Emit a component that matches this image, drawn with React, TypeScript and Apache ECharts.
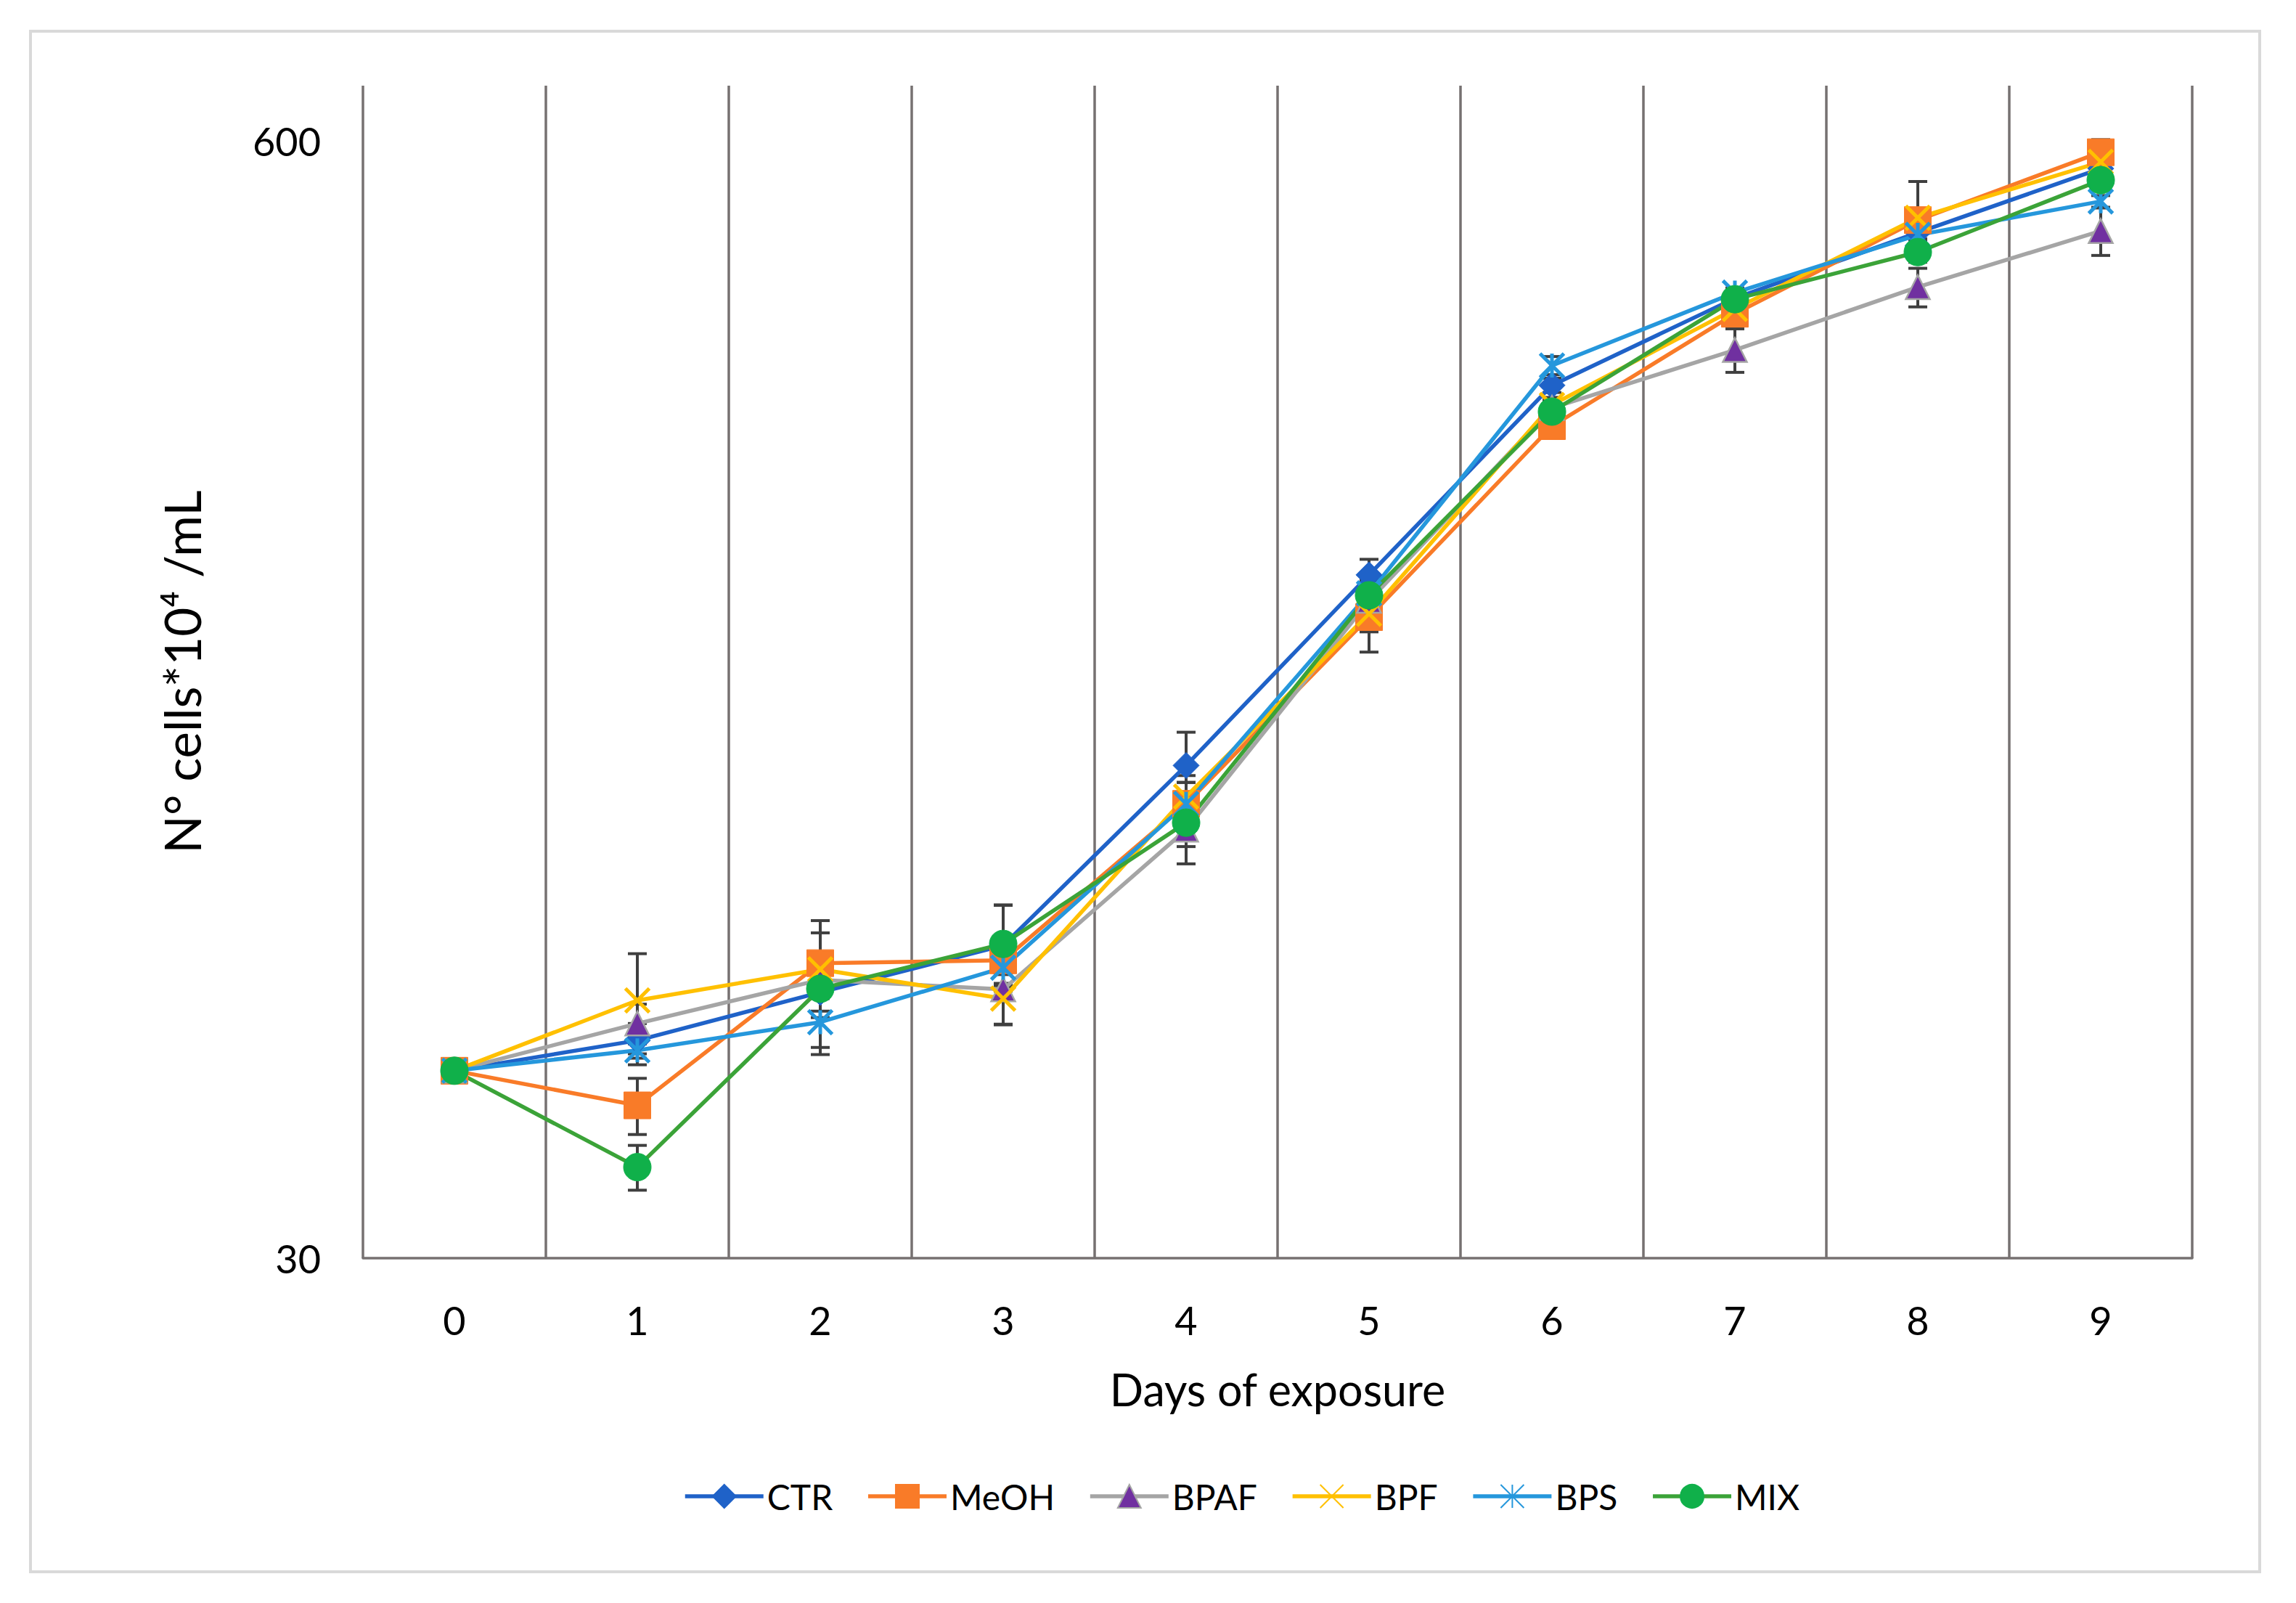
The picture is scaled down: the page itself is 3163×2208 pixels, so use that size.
import React, { useEffect, useRef } from 'react';
import * as echarts from 'echarts';

// ---- data ----
const DAYS = ['0', '1', '2', '3', '4', '5', '6', '7', '8', '9'];
const SERIES_NAMES = ['CTR', 'MeOH', 'BPAF', 'BPF', 'BPS', 'MIX'];

const CTR = [49.6, 53.8, 61.2, 69.4, 112.5, 187.6, 312, 394, 470, 558];
const MEOH = [49.6, 45.2, 66.2, 66.7, 101.5, 167.5, 279.6, 378, 486, 583];
const BPAF = [49.6, 56.3, 63.3, 61.7, 94.7, 175, 293.6, 343, 406, 472];
const BPF = [49.6, 59.9, 65.1, 60.2, 103.5, 169, 296, 383, 489, 568];
const BPS = [49.6, 52.4, 56.5, 65.4, 101.5, 178.5, 329, 400, 467, 511];
const MIX = [49.6, 38.3, 61.8, 69.7, 96.5, 177.6, 290.7, 393, 446, 541];

const CTR_ERR = [0, 2.5, 4, 8, 10.5, 8, 6, 5, 8, 8];
const MEOH_ERR = [0, 3.4, 8, 4, 6, 15, 8, 6, 12, 20];
const BPAF_ERR = [0, 3, 3, 5.6, 8.3, 6, 6, 20, 21, 30];
const BPF_ERR = [0, 8, 3, 4, 6, 8, 6, 6, 50, 10];
const BPS_ERR = [0, 2, 3.7, 3, 6, 6, 8, 5, 8, 8];
const MIX_ERR = [0, 2.3, 10, 7.6, 6, 8, 6, 5, 12, 10];

const Y_LABELS = [30, 600];

const FONT = 'Lato';
const GRID_COLOR = '#767171';

const X_PATH = 'path://M0,0L10,10M10,0L0,10';
const STAR_PATH = 'path://M0,0L10,10M10,0L0,10M5,0L5,10';

export default function App() {
  const ref = useRef<HTMLDivElement>(null);

  useEffect(() => {
    document.body.style.margin = '0';
    if (!ref.current) return;
    const chart = echarts.init(ref.current, undefined, { renderer: 'svg' });

    const values = [CTR, MEOH, BPAF, BPF, BPS, MIX];
    const errs = [CTR_ERR, MEOH_ERR, BPAF_ERR, BPF_ERR, BPS_ERR, MIX_ERR];
    const errData: number[][] = [];
    values.forEach((arr, si) => {
      arr.forEach((v, d) => {
        const e = errs[si][d];
        if (e > 0) errData.push([d, v - e, v + e]);
      });
    });

    const styles = [
      { line: '#1F62C8', symbol: 'diamond', size: 36, fill: '#1F62C8', border: '#1F62C8', bw: 1 },
      { line: '#F97B28', symbol: 'rect', size: 37, fill: '#F97B28', border: '#F97B28', bw: 1 },
      { line: '#A5A5A5', symbol: 'triangle', size: 33, fill: '#7030A0', border: '#A5A5A5', bw: 2.5 },
      { line: '#FFC000', symbol: X_PATH, size: 33, fill: '#FFC000', border: '#FFC000', bw: 5 },
      { line: '#2597DC', symbol: STAR_PATH, size: 33, fill: '#2597DC', border: '#2597DC', bw: 5 },
      { line: '#3BA338', symbol: 'circle', size: 38, fill: '#10B04A', border: '#10B04A', bw: 1 },
    ];

    const lineSeries: any[] = SERIES_NAMES.map((name, i) => ({
      name,
      type: 'line',
      data: values[i],
      symbol: styles[i].symbol,
      symbolSize: styles[i].size,
      showAllSymbol: true,
      z: 3,
      lineStyle: { color: styles[i].line, width: 5.5 },
      itemStyle: {
        color: styles[i].fill,
        borderColor: styles[i].border,
        borderWidth: styles[i].bw,
      },
      emphasis: { disabled: true },
      ...(i === 0
        ? {
            markLine: {
              silent: true,
              symbol: ['none', 'none'],
              lineStyle: { color: 'rgba(0,0,0,0)', width: 0 },
              label: {
                position: 'start',
                distance: 58,
                formatter: '{c}',
                color: '#000',
                fontSize: 54,
                fontFamily: FONT,
              },
              emphasis: { disabled: true },
              data: Y_LABELS.map((v) => ({ yAxis: v })),
            },
          }
        : {}),
    }));

    const errSeries = {
      name: 'err',
      type: 'custom',
      data: errData,
      encode: { x: 0, y: [1, 2] },
      z: 2,
      silent: true,
      renderItem: (params: any, api: any) => {
        const x = api.value(0);
        const lo = api.coord([x, api.value(1)]);
        const hi = api.coord([x, api.value(2)]);
        const hw = 13;
        const st = { stroke: '#3F3F3F', lineWidth: 4 };
        return {
          type: 'group',
          children: [
            { type: 'line', shape: { x1: lo[0], y1: lo[1], x2: hi[0], y2: hi[1] }, style: st },
            { type: 'line', shape: { x1: lo[0] - hw, y1: lo[1], x2: lo[0] + hw, y2: lo[1] }, style: st },
            { type: 'line', shape: { x1: hi[0] - hw, y1: hi[1], x2: hi[0] + hw, y2: hi[1] }, style: st },
          ],
        };
      },
    };

    chart.setOption({
      animation: false,
      backgroundColor: '#ffffff',
      textStyle: { fontFamily: FONT },
      graphic: [
        {
          type: 'rect',
          shape: { x: 42, y: 43, width: 3071, height: 2122 },
          style: { fill: 'none', stroke: '#D9D9D9', lineWidth: 4 },
          silent: true,
          z: -1,
        },
      ],
      grid: { left: 500, right: 143, top: 118, bottom: 475 },
      legend: {
        data: SERIES_NAMES,
        left: 936,
        top: 2032,
        itemWidth: 108,
        itemHeight: 40,
        itemGap: 46,
        selectedMode: false,
        lineStyle: { width: 5.5 },
        textStyle: { fontSize: 48, color: '#000', fontFamily: FONT },
      },
      xAxis: {
        type: 'category',
        data: DAYS,
        boundaryGap: true,
        axisLine: { lineStyle: { color: GRID_COLOR, width: 3.5 } },
        axisTick: { show: false },
        axisLabel: { fontSize: 54, color: '#000', margin: 58, fontFamily: FONT },
        splitLine: { show: true, lineStyle: { color: GRID_COLOR, width: 3.5 } },
        name: 'Days of exposure',
        nameLocation: 'middle',
        nameGap: 150,
        nameTextStyle: { fontSize: 61, color: '#000', fontFamily: FONT },
      },
      yAxis: {
        type: 'log',
        logBase: 20,
        min: 30,
        max: 697,
        axisLine: { show: false },
        axisTick: { show: false },
        axisLabel: { show: false },
        splitLine: { show: false },
        name: 'N° cells*10⁴ /mL',
        nameLocation: 'middle',
        nameRotate: 90,
        nameGap: 215,
        nameTextStyle: { fontSize: 69, color: '#000', fontFamily: FONT },
      },
      series: [errSeries, ...lineSeries],
    });

    return () => chart.dispose();
  }, []);

  return <div ref={ref} style={{ width: 3163, height: 2208 }} />;
}
